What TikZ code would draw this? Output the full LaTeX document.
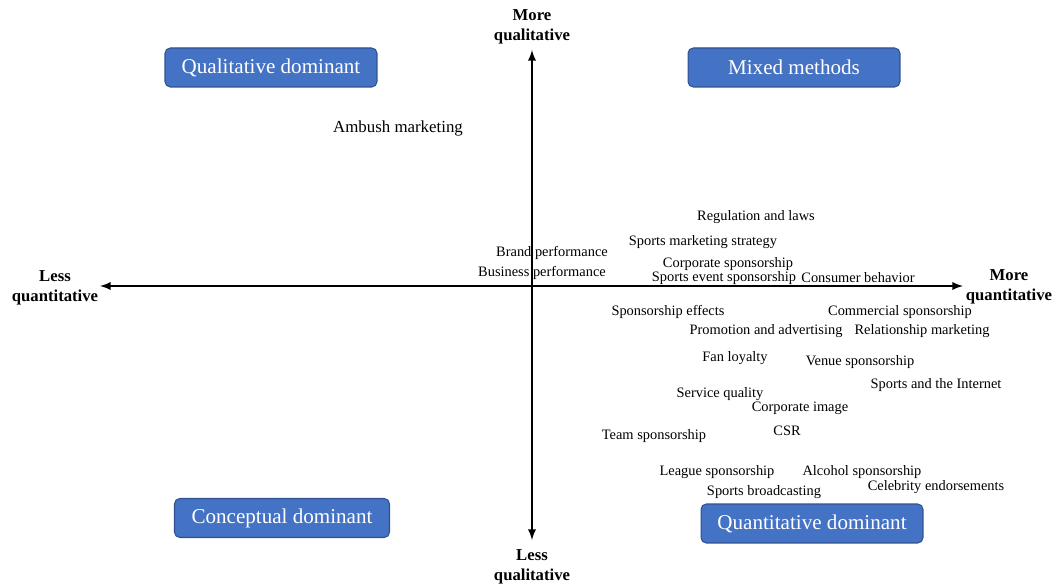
\documentclass[tikz,border=0pt]{standalone}
\usepackage{fontspec}
\setmainfont{Liberation Serif}
\definecolor{boxblue}{HTML}{4472C4}
\definecolor{boxedge}{HTML}{2F528F}
\begin{document}
\begin{tikzpicture}[x=0.02cm, y=-0.02cm,
    quadrant/.style={draw=boxedge, fill=boxblue, text=white, rounded corners=3pt,
      line width=0.6pt, minimum height=0.78cm, inner sep=0pt, font=\fontsize{12}{14}\selectfont},
    topic/.style={inner sep=0pt, yshift=-0.8pt, font=\fontsize{8.2}{9.5}\selectfont},
    axislabel/.style={align=center, inner sep=0pt, yshift=-0.8pt, font=\fontsize{9.5}{11.3}\selectfont\bfseries},
    axis/.style={<->, >=latex, line width=1.1pt}]

    \useasboundingbox (0,0) rectangle (1054,587);

    % Axes
    \coordinate (left) at (100,286);
    \coordinate (right) at (963,286);
    \coordinate (top) at (532,50);
    \coordinate (bottom) at (532,540);
    \draw[axis] (left) -- (right);
    \draw[axis] (bottom) -- (top);

    % Axis ends
    \node[axislabel] (lessquan) at (55,286) {Less\\quantitative};
    \node[axislabel] (morequan) at (1009,285) {More\\quantitative};
    \node[axislabel] (morequal) at (532,25) {More\\qualitative};
    \node[axislabel] (lessqual) at (532,565) {Less\\qualitative};

    % Quadrants
    \node[quadrant, minimum width=4.24cm] (qualdom) at (271,67.5) {Qualitative dominant};
    \node[quadrant, minimum width=4.24cm] (mixed) at (794,67.5) {Mixed methods};
    \node[quadrant, minimum width=4.30cm] (concdom) at (282,518) {Conceptual dominant};
    \node[quadrant, minimum width=4.44cm] (quandom) at (812,523.5) {Quantitative dominant};

    % Upper half
    \node[topic, font=\fontsize{9.6}{11}\selectfont] (ambush) at (398,127) {Ambush marketing};
    \node[topic] (regulation) at (756,216) {Regulation and laws};
    \node[topic] (strategy) at (703,241) {Sports marketing strategy};
    \node[topic] (brand) at (552,252) {Brand performance};
    \node[topic] (business) at (542,272) {Business performance};
    \node[topic] (corpspons) at (728,263) {Corporate sponsorship};
    \node[topic] (eventspons) at (724,277) {Sports event sponsorship};
    \node[topic] (consumer) at (858,276) {Consumer behavior};

    % Lower half
    \node[topic] (effects) at (668,311) {Sponsorship effects};
    \node[topic] (commercial) at (900,311) {Commercial sponsorship};
    \node[topic] (promotion) at (766,330) {Promotion and advertising};
    \node[topic] (relationship) at (922,330) {Relationship marketing};
    \node[topic] (fan) at (735,357) {Fan loyalty};
    \node[topic] (venue) at (860,361) {Venue sponsorship};
    \node[topic] (internet) at (936,384) {Sports and the Internet};
    \node[topic] (service) at (720,393) {Service quality};
    \node[topic] (image) at (800,407) {Corporate image};
    \node[topic] (csr) at (787,429) {CSR};
    \node[topic] (team) at (654,435) {Team sponsorship};
    \node[topic] (league) at (717,471) {League sponsorship};
    \node[topic] (alcohol) at (862,471) {Alcohol sponsorship};
    \node[topic] (broadcast) at (764,491) {Sports broadcasting};
    \node[topic] (celebrity) at (936,486) {Celebrity endorsements};
\end{tikzpicture}
\end{document}
